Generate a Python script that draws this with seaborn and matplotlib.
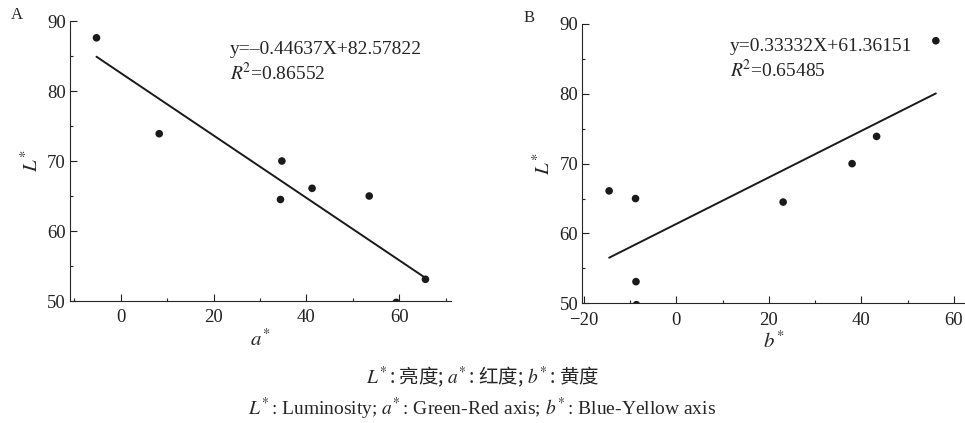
import numpy as np
import pandas as pd
import matplotlib
matplotlib.use("Agg")
import matplotlib.pyplot as plt
import seaborn as sns

# colour values of the samples
L_star = [87.6, 73.9, 70.0, 64.5, 66.1, 65.0, 53.1, 49.8]
a_star = [-5.2, 8.3, 34.7, 34.4, 41.2, 53.5, 65.6, 59.3]
b_star = [56.1, 43.3, 38.0, 23.1, -14.5, -8.8, -8.7, -8.6]

# fitted lines (slope, intercept) and R^2 as printed on the chart
fit_a = (-0.44637, 82.57822)
fit_b = (0.33332, 61.36151)
eq_a = "y=\u20130.44637X+82.57822"
eq_b = "y=0.33332X+61.36151"
r2_a = r"$R^{\!2}$=0.86552"
r2_b = r"$R^{\!2}$=0.65485"

df = pd.DataFrame({"L": L_star, "a": a_star, "b": b_star})

sns.set_style("ticks")
plt.rcParams["font.family"] = ["Liberation Serif", "Noto Sans CJK SC"]
plt.rcParams["mathtext.fontset"] = "stix"
plt.rcParams["axes.linewidth"] = 0.8
for ax_name in ("xtick", "ytick"):
    plt.rcParams[f"{ax_name}.direction"] = "in"
    plt.rcParams[f"{ax_name}.major.size"] = 5
    plt.rcParams[f"{ax_name}.minor.size"] = 2.5
    plt.rcParams[f"{ax_name}.major.width"] = 0.8
    plt.rcParams[f"{ax_name}.minor.width"] = 0.8
    plt.rcParams[f"{ax_name}.labelsize"] = 13.5
    plt.rcParams[f"{ax_name}.color"] = "#222222"

fig = plt.figure(figsize=(9.65, 4.23), dpi=100)
W, H = 965, 423
axA = fig.add_axes([70 / W, 1 - 301 / H, (451 - 70) / W, (301 - 21) / H])
axB = fig.add_axes([582.3 / W, 1 - 303.3 / H, (965 - 582.3) / W, (303.3 - 24) / H])


def panel(ax, xcol, fit, eq, r2, xlim, xlabel, letter, eq_x, eq_y):
    sns.scatterplot(data=df, x=xcol, y="L", ax=ax, color="#1a1a1a", s=30,
                    edgecolor="none", zorder=3)
    xs = np.array([df[xcol].min(), df[xcol].max()])
    sns.lineplot(x=xs, y=fit[0] * xs + fit[1], ax=ax, color="#1a1a1a", lw=1.4)
    ax.set_ylim(50, 90)
    ax.set_yticks([50, 60, 70, 80, 90])
    ax.set_yticks([55, 65, 75, 85], minor=True)
    ax.set_xticks(np.arange(-20, 80, 10), minor=True)
    ax.set_xticks(np.arange(-20, 80, 20))
    ax.set_xlim(*xlim)
    sns.despine(ax=ax)
    ax.tick_params(axis="x", which="major", pad=6)
    ax.tick_params(axis="y", which="major", pad=3)
    ax.set_xlabel(xlabel, fontsize=15, labelpad=2)
    ax.set_ylabel(r"$L^{\!*}$", fontsize=15, labelpad=3)
    ax.text(eq_x, eq_y, eq, transform=ax.transAxes, fontsize=14, va="center")
    ax.text(eq_x, eq_y - 0.085, r2, transform=ax.transAxes, fontsize=14,
            va="center")
    ax.text(-0.14, 1.02, letter, transform=ax.transAxes, fontsize=12,
            va="center", ha="center")


panel(axA, "a", fit_a, eq_a, r2_a, (-10.9, 71.1), r"$a^{\!*}$", "A", 0.42, 0.90)
panel(axB, "b", fit_b, eq_b, r2_b, (-20.3, 62.4), r"$b^{\!*}$", "B", 0.385, 0.92)

fig.text(0.5, 1 - 377 / H, r"$L^{\!*}$: 亮度; $a^{\!*}$: 红度; $b^{\!*}$: 黄度",
         family=["Noto Sans CJK SC"], fontsize=14, ha="center", va="center")
fig.text(0.5, 1 - 409 / H,
         r"$L^{\!*}$: Luminosity; $a^{\!*}$: Green-Red axis; $b^{\!*}$: Blue-Yellow axis",
         fontsize=14, ha="center", va="center")

fig.savefig("out.png", dpi=100)
